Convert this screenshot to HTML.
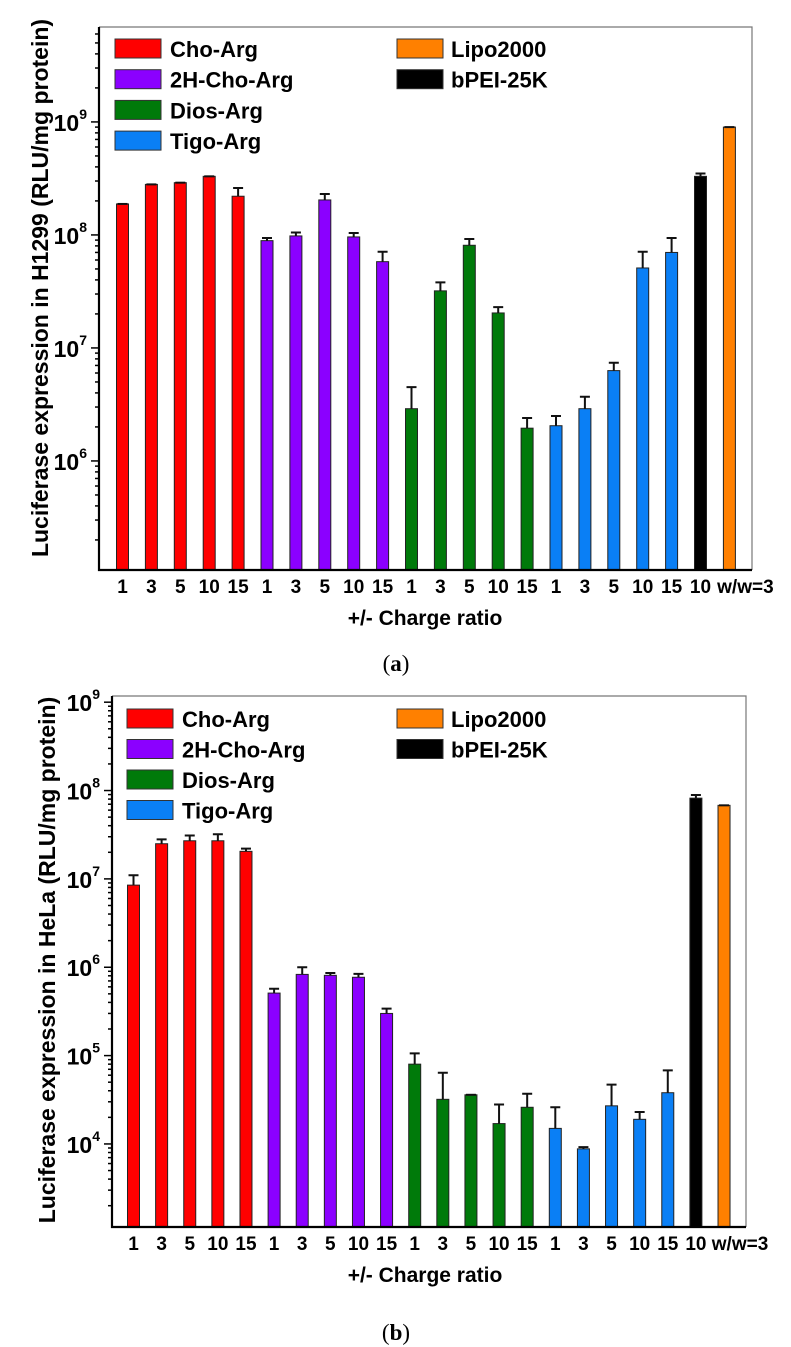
<!DOCTYPE html>
<html><head><meta charset="utf-8">
<style>
html,body{margin:0;padding:0;background:#fff;}
svg{display:block;font-family:"Liberation Sans",Arial,sans-serif;}
</style></head>
<body>
<svg id="fig" width="791" height="1347" viewBox="0 0 791 1347" xmlns="http://www.w3.org/2000/svg">
<g id="chartA"></g>
<g id="chartB"></g>
<text x="396" y="671" font-family="Liberation Serif,serif" font-size="23" text-anchor="middle">(<tspan font-weight="bold">a</tspan>)</text>
<text x="396" y="1340" font-family="Liberation Serif,serif" font-size="23" text-anchor="middle">(<tspan font-weight="bold">b</tspan>)</text>
</svg>
<script>
const categories = ["1","3","5","10","15","1","3","5","10","15","1","3","5","10","15","1","3","5","10","15","10","w/w=3"];
const groups = ["Cho-Arg","Cho-Arg","Cho-Arg","Cho-Arg","Cho-Arg","2H-Cho-Arg","2H-Cho-Arg","2H-Cho-Arg","2H-Cho-Arg","2H-Cho-Arg","Dios-Arg","Dios-Arg","Dios-Arg","Dios-Arg","Dios-Arg","Tigo-Arg","Tigo-Arg","Tigo-Arg","Tigo-Arg","Tigo-Arg","bPEI-25K","Lipo2000"];
const valuesA = [1.88e8,2.8e8,2.9e8,3.3e8,2.2e8, 8.9e7,9.8e7,2.04e8,9.6e7,5.8e7, 2.9e6,3.2e7,8.1e7,2.04e7,1.95e6, 2.05e6,2.9e6,6.3e6,5.1e7,7.0e7, 3.3e8,9.0e8];
const errTopA = [1.92e8,2.85e8,2.95e8,3.4e8,2.6e8, 9.4e7,1.05e8,2.3e8,1.04e8,7.1e7, 4.5e6,3.8e7,9.2e7,2.3e7,2.4e6, 2.5e6,3.7e6,7.4e6,7.1e7,9.4e7, 3.5e8,9.0e8];
const valuesB = [8.5e6,2.5e7,2.7e7,2.7e7,2.05e7, 5.1e5,8.3e5,8.1e5,7.7e5,3.0e5, 8.0e4,3.2e4,3.6e4,1.7e4,2.6e4, 1.5e4,8.8e3,2.7e4,1.9e4,3.8e4, 8.2e7,6.8e7];
const errTopB = [1.1e7,2.8e7,3.1e7,3.2e7,2.2e7, 5.7e5,1.0e6,8.6e5,8.4e5,3.4e5, 1.06e5,6.4e4,3.7e4,2.8e4,3.7e4, 2.6e4,9.2e3,4.7e4,2.3e4,6.8e4, 8.9e7,6.8e7];
const tickExpA = [6,7,8,9];
const tickExpB = [4,5,6,7,8,9];
const legendLeft = ["Cho-Arg","2H-Cho-Arg","Dios-Arg","Tigo-Arg"];
const legendRight = ["Lipo2000","bPEI-25K"];
const colors = {"Cho-Arg":"#ff0000","2H-Cho-Arg":"#8b00ff","Dios-Arg":"#007a0a","Tigo-Arg":"#0a7ff5","bPEI-25K":"#000000","Lipo2000":"#ff8000"};

const NS="http://www.w3.org/2000/svg";
function mk(parent,tag,attrs){const e=document.createElementNS(NS,tag);for(const k in attrs)e.setAttribute(k,attrs[k]);parent.appendChild(e);return e;}

function drawChart(g,cfg,values,errs,tickExp,yTitle){
  const {L,R,T,B,logMin,logMax,x0,dx,bw}=cfg;
  const y=v=>B-(Math.log10(v)-logMin)/(logMax-logMin)*(B-T);
  const x=i=>x0+i*dx;
  const fr=mk(g,'path',{d:`M${L},${T}H${R}V${B}`,fill:'none',stroke:'#777','stroke-width':1.2});
  
  
  values.forEach((v,i)=>{
    const yt=y(v);
    const r=mk(g,'rect',{x:x(i)-bw/2,y:yt,width:bw,height:B-yt,fill:colors[groups[i]],stroke:'#222','stroke-width':1});
    
    
    const ye=y(errs[i]);
    if(yt-ye>1.5){
      const e=mk(g,'path',{d:`M${x(i)},${yt}V${ye}M${x(i)-5},${ye}H${x(i)+5}`,stroke:'#111','stroke-width':2,fill:'none'});
      
      
    } else {
      mk(g,'path',{d:`M${x(i)-5},${yt}H${x(i)+5}`,stroke:'#111','stroke-width':2});
    }
  });
  const ax=mk(g,'path',{d:`M${L},${T}V${B}H${R}`,fill:'none',stroke:'#000','stroke-width':2.2});
  
  
  for(let e=Math.floor(logMin);e<=Math.ceil(logMax);e++){
    for(let m=1;m<10;m++){
      const lv=e+Math.log10(m);
      if(lv<logMin||lv>logMax)continue;
      const yy=B-(lv-logMin)/(logMax-logMin)*(B-T);
      mk(g,'line',{x1:L-(m===1?8:4),x2:L,y1:yy,y2:yy,stroke:'#000','stroke-width':1.5});
    }
  }
  tickExp.forEach(e=>{
    const yy=y(Math.pow(10,e));
    const t=mk(g,'text',{x:L-12,y:yy+9,'text-anchor':'end','font-size':23,'font-weight':'bold'});
    
    
    t.textContent='10';
    const s=mk(t,'tspan',{dy:-12,'font-size':14});
    s.textContent=String(e);
  });
  categories.forEach((c,i)=>{
    const t=mk(g,'text',{x:x(i)+(c.length>3?16:0),y:B+23,'text-anchor':'middle','font-size':19,'font-weight':'bold'});
    
    
    t.textContent=c;
  });
  const xt=mk(g,'text',{x:cfg.xtX,y:B+55,'text-anchor':'middle','font-size':21,'font-weight':'bold'});
  
  
  xt.textContent='+/- Charge ratio';
  const yt=mk(g,'text',{x:0,y:0,'text-anchor':'middle','font-size':cfg.ytSize,'font-weight':'bold',transform:`translate(${cfg.ytX},${cfg.ytY}) rotate(-90)`});
  
  
  yt.textContent=yTitle;
  legendLeft.forEach((n,k)=>{
    const yy=cfg.legY+k*cfg.legDy;
    const r=mk(g,'rect',{x:cfg.legX,y:yy,width:46,height:19,fill:colors[n],stroke:'#333','stroke-width':1});
    
    
    const t=mk(g,'text',{x:cfg.legX+55,y:yy+18,'font-size':22,'font-weight':'bold'});
    
    
    t.textContent=n;
  });
  legendRight.forEach((n,k)=>{
    const yy=cfg.legY+k*cfg.legDy;
    const r=mk(g,'rect',{x:cfg.leg2X,y:yy,width:46,height:19,fill:colors[n],stroke:'#333','stroke-width':1});
    
    
    const t=mk(g,'text',{x:cfg.leg2X+54,y:yy+18,'font-size':22,'font-weight':'bold'});
    
    
    t.textContent=n;
  });
}

drawChart(document.getElementById('chartA'),
  {L:99,R:752,T:27,B:570,logMin:5.035,logMax:9.84,x0:122.5,dx:28.9,bw:12,xtX:425,ytX:48,ytY:288,ytSize:23,
   legX:115,legY:39,legDy:30.7,leg2X:397},
  valuesA,errTopA,tickExpA,'Luciferase expression in H1299 (RLU/mg protein)');
drawChart(document.getElementById('chartB'),
  {L:112,R:746,T:696,B:1227,logMin:3.06,logMax:9.07,x0:133.5,dx:28.12,bw:12,xtX:425,ytX:55,ytY:960,ytSize:23,
   legX:127,legY:709,legDy:30.5,leg2X:397},
  valuesB,errTopB,tickExpB,'Luciferase expression in HeLa (RLU/mg protein)');
</script>
</body></html>
